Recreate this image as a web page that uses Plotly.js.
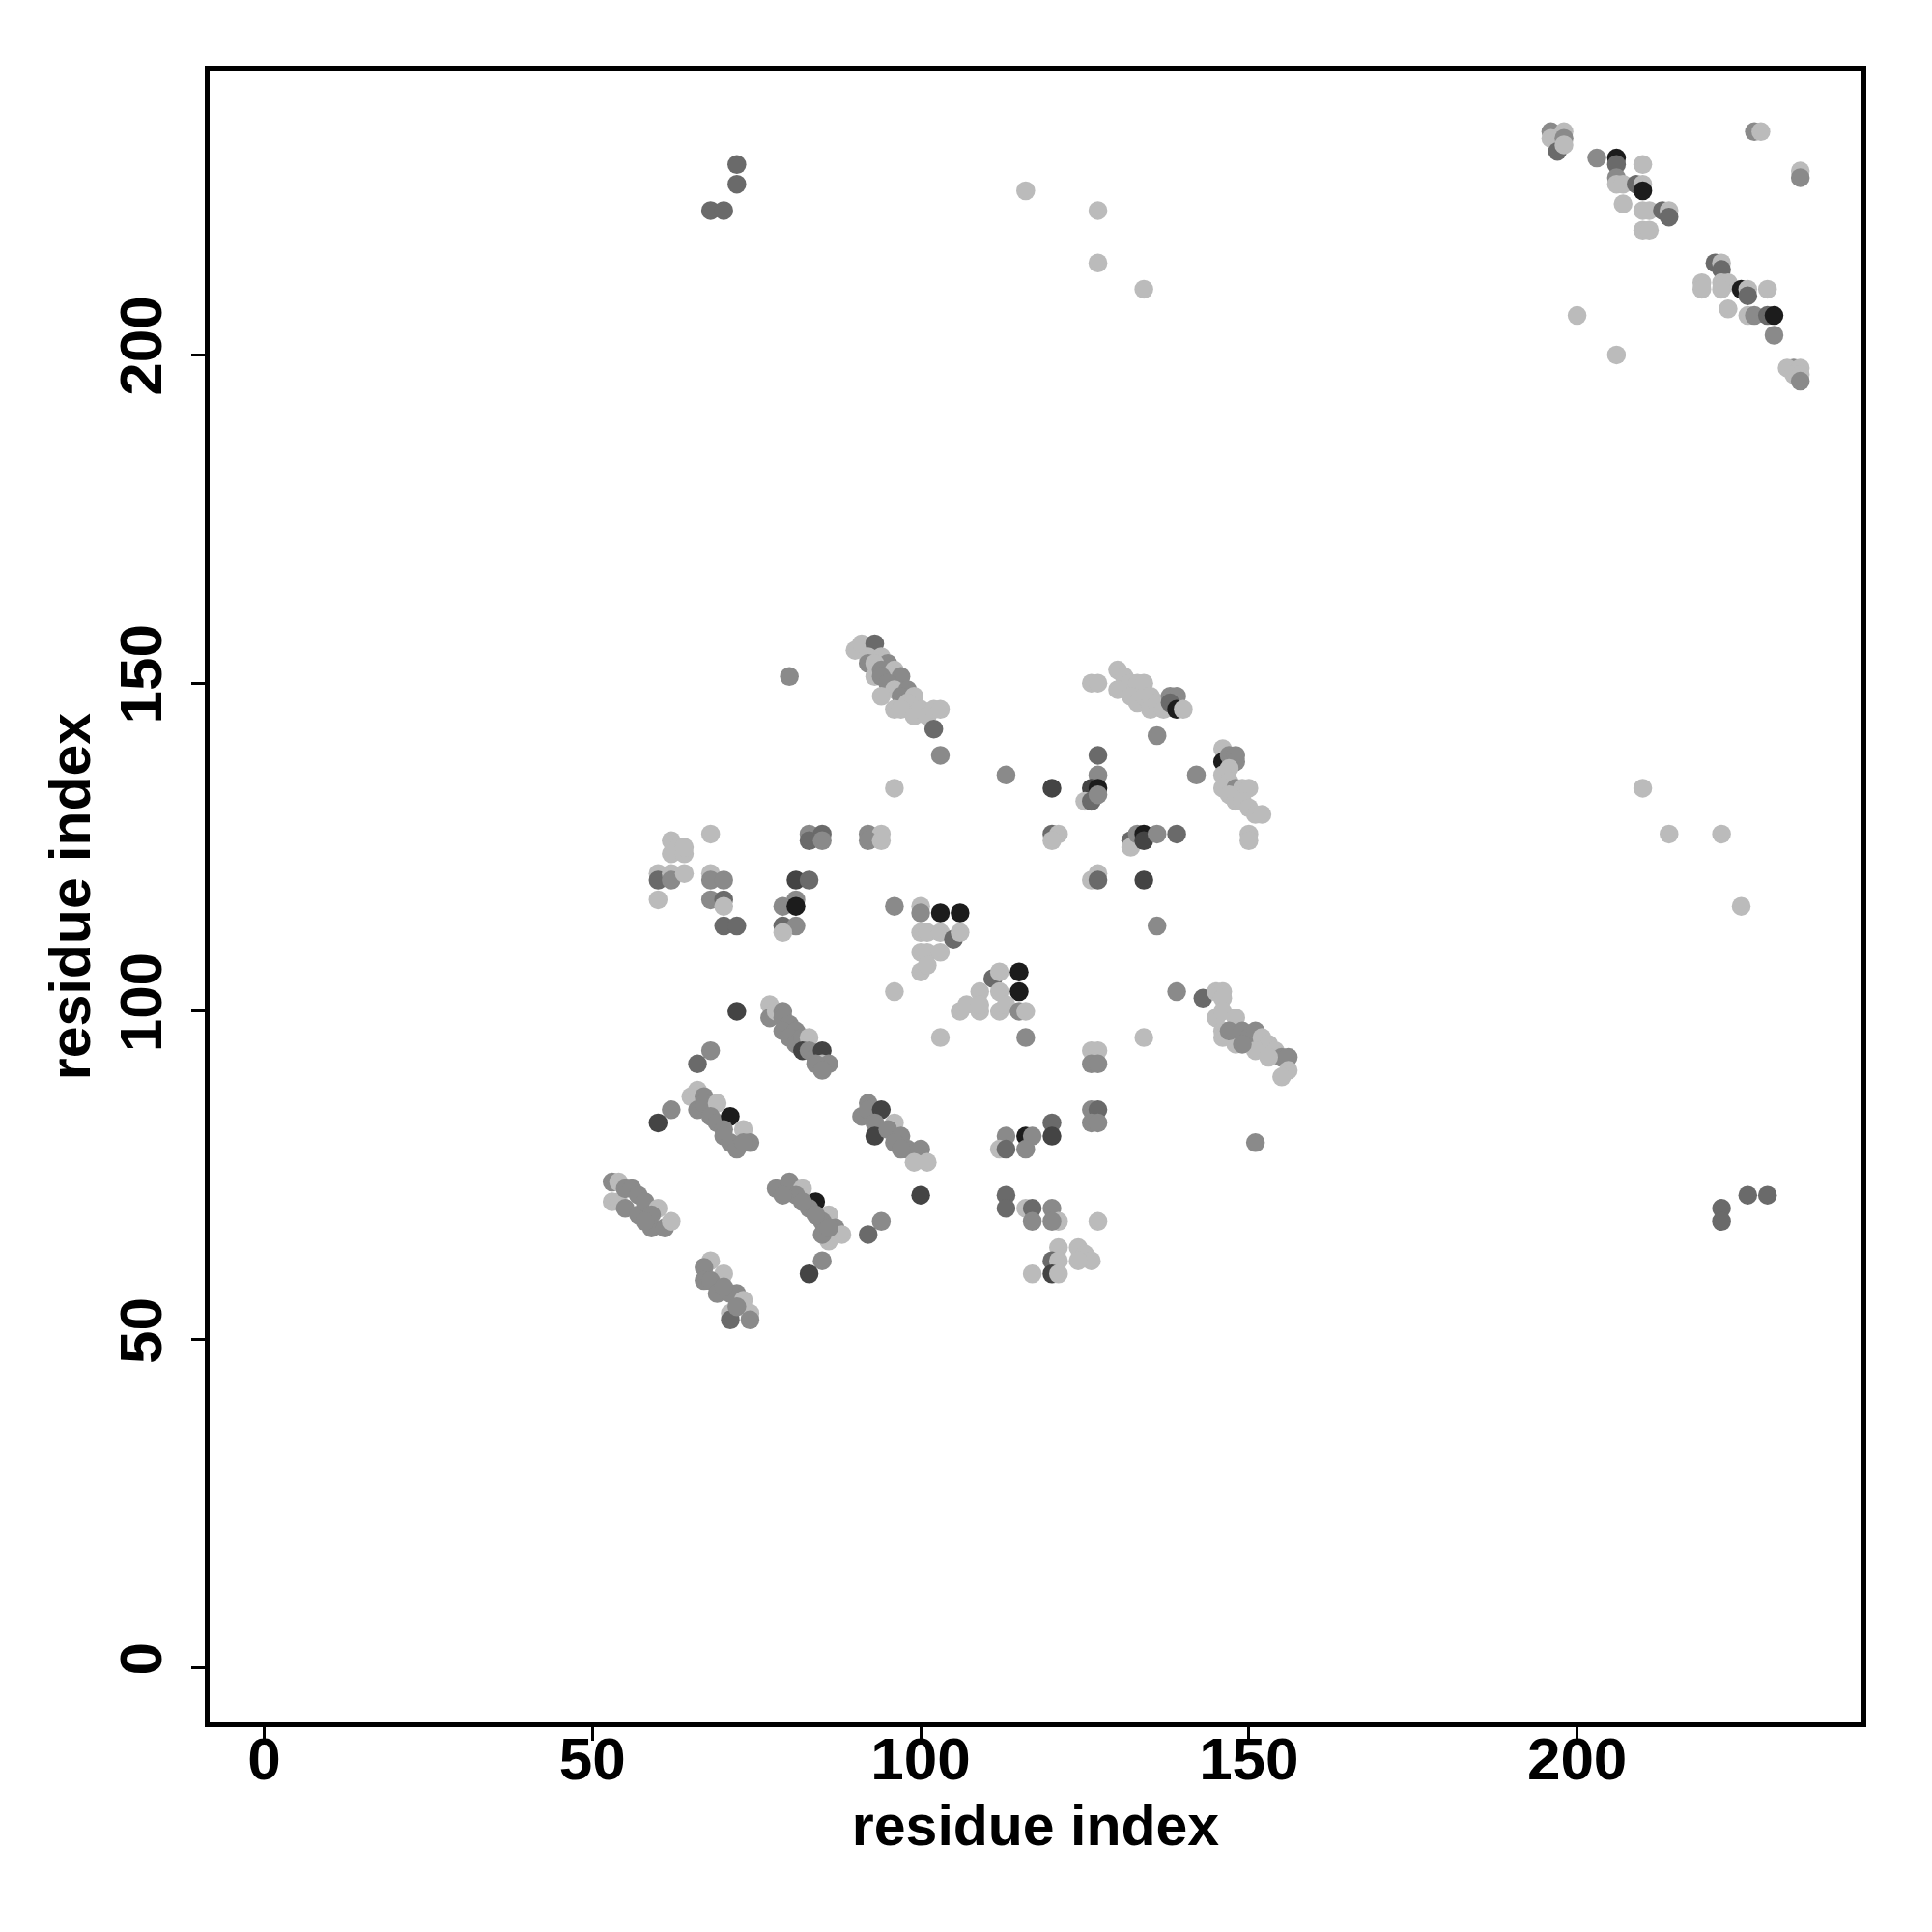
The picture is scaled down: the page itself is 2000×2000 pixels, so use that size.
<!DOCTYPE html>
<html>
<head>
<meta charset="utf-8">
<script src="https://cdn.plot.ly/plotly-3.0.1.min.js"></script>
<style>html,body{margin:0;padding:0;background:#fff;}</style>
</head>
<body>
<div id="chart" style="width:2000px;height:2000px;"></div>
<script>
// Contact map: residue i, residue j, contact level (1 = light gray ... 5 = black)
const topRightI = [196,198,196,197,197,198,198,203,206,206,210,206,206,207,209,210,210,207,210,211,213,214,214,210,211,221,222,222,219,219,222,223,222,225,226,226,229,223,226,227,229,230,230,233,232,234,233,234,234,227,228,234,234,200,206];
const topRightJ = [234,234,233,233,231,233,232,230,230,229,229,227,226,226,226,226,225,223,222,222,222,222,221,219,219,214,214,213,211,210,211,211,210,210,210,209,210,207,206,206,206,206,203,198,198,198,197,197,196,234,234,228,227,206,200];
const topRightL = [2,1,1,1,3,2,1,2,5,3,1,2,1,1,3,1,5,1,1,1,3,1,3,1,1,3,1,3,1,1,1,1,1,5,1,3,1,1,1,2,3,5,2,2,1,1,1,1,2,2,1,1,2,1,1];

const sparseI = [72,72,68,70,116,127,127,134,210,214,222,225,222,222,226,229];
const sparseJ = [229,226,222,222,225,222,214,210,134,127,127,116,70,68,72,72];
const sparseL = [3,3,3,3,1,1,1,1,1,1,1,1,3,3,3,3];

const sheetAI = [90,91,93,92,94,92,95,93,93,94,96,94,97,95,96,98,94,97,99,98,96,97,99,100,101,102,103,102,103,80,96];
const sheetAJ = [155,156,156,154,154,153,153,153,151,152,152,151,151,150,149,149,148,148,148,147,146,146,145,146,145,146,146,143,139,151,134];
const sheetAL = [1,1,3,1,1,2,2,1,1,2,1,2,2,2,1,2,1,2,1,1,1,1,1,1,1,1,1,3,2,2,1];

const sheetBI = [126,127,130,131,132,133,134,130,132,133,134,135,135,136,137,138,139,138,139,140,136,
                 113,120,127,127,126,127,125,126,127,142,
                 146,146,147,148,148,147,146,147,146,148,149,150,147,148,149,150,151,152,150,150];
const sheetBJ = [150,150,152,151,150,150,150,149,148,147,148,148,146,147,146,148,148,147,146,146,142,
                 136,134,139,136,134,134,132,132,133,136,
                 140,138,139,139,138,137,136,135,134,134,134,134,133,132,132,131,130,130,127,126];
const sheetBL = [1,1,1,1,1,1,1,1,1,1,1,1,1,1,1,2,2,3,5,1,2,
                 2,4,3,2,4,5,1,3,2,2,
                 1,5,2,2,2,1,1,1,1,2,1,1,1,1,1,1,1,1,1,1];

const midUpperI = [68,83,85,83,85,92,94,92,94,120,121,120,132,132,133,134,134,136,139,
                   62,63,62,64,64,60,60,62,62,64,60,
                   68,68,70,68,70,70,70,72,
                   81,83,79,81,81,79,81,79,
                   96,100,100,103,106,100,101,103,105,106,100,101,103,100,101,96,103,
                   126,127,127,134,136];
const midUpperJ = [127,127,127,126,126,127,127,126,126,127,127,126,126,125,127,127,126,127,127,
                   126,125,124,124,125,121,120,121,120,121,117,
                   121,120,120,117,117,116,113,113,
                   120,120,116,117,116,113,113,112,
                   116,116,115,115,115,112,112,112,111,112,109,109,109,106,107,103,96,
                   120,121,120,120,113];
const midUpperL = [1,2,3,3,2,2,1,2,1,3,1,1,3,1,2,5,4,2,3,
                   1,1,1,1,1,1,3,1,2,1,1,
                   1,2,2,2,3,1,3,3,
                   4,3,2,2,5,3,2,1,
                   2,1,2,5,5,1,1,1,3,1,1,1,1,1,1,1,1,
                   1,1,3,4,2];

const midI = [111,112,115,115,109,112,106,107,109,109,112,113,115,116,116,139,143,145,146,146,
              145,146,148,146,146,148,147,149,150,151,152,153,154,155,156,156,155,151,153,149,
              134,126,127,126,127,
              72,77,77,78,79,79,80,79,81,80,81,82,83,82,83,84,85,85,86,84,85,68,66];
const midJ = [105,106,106,103,103,103,100,101,100,101,100,101,100,100,96,103,102,103,103,102,
              99,100,99,97,96,95,97,97,96,97,96,95,94,93,93,91,90,94,93,95,
              96,94,94,92,92,
              100,101,99,100,100,99,98,97,97,96,95,96,96,94,94,93,94,92,92,92,91,94,92];
const midL = [3,1,5,5,1,1,1,1,1,1,1,1,2,1,2,2,3,1,1,1,
              1,1,1,1,1,1,2,2,2,2,1,1,1,2,2,1,1,1,1,2,
              1,1,1,2,2,
              4,1,2,1,2,2,2,2,2,2,2,2,1,4,2,2,4,1,2,2,2,2,3];

const lowI = [60,62,65,66,67,66,67,69,68,69,71,70,73,70,71,74,72,73,
              92,91,92,94,93,96,93,95,97,96,98,100,99,101,97,
              100,94,92,
              53,54,53,54,55,56,57,55,57,58,60,59,61,62,59,58,
              78,80,82,81,79,84,83,82,86,85,84,87,88,86,85,86,
              85,83,
              68,67,67,70,68,69,72,71,73,71,71,74,74,70,72,
              126,127,126,127,113,112,113,116,117,116,120,120,151,113,113,116,117,117,120,121,120,127,121,120,121,120,121,117,124,125,126,124];
const lowJ = [83,85,87,88,87,85,86,86,84,83,84,82,82,81,80,80,79,80,
              86,84,85,85,83,83,81,82,81,80,79,79,77,77,79,
              72,68,66,
              74,74,71,71,73,73,72,70,69,71,70,67,67,68,69,68,
              73,74,73,72,72,71,70,71,69,68,69,67,66,65,66,67,
              62,60,
              62,61,59,60,59,57,57,57,56,54,53,54,53,58,55,
              85,85,83,83,81,79,79,81,81,79,83,81,80,72,70,70,70,68,70,68,68,68,64,62,62,60,60,60,64,63,62,62];
const lowL = [4,2,1,1,2,2,2,1,2,2,5,2,1,2,2,2,2,2,
              2,2,2,4,2,1,4,2,2,2,2,2,1,1,2,
              4,2,3,
              2,1,1,1,2,2,2,2,2,2,1,2,2,1,2,2,
              2,2,1,2,2,5,2,2,1,2,2,2,1,1,2,2,
              2,4,
              1,2,2,1,2,2,2,2,1,1,3,1,2,2,2,
              2,3,2,2,2,1,3,5,2,2,3,4,2,3,3,1,3,2,2,1,2,1,1,3,1,4,1,1,1,1,1,1];

const tickValues = [0, 50, 100, 150, 200];
const axisLabel = 'residue index';

const xs = [].concat(topRightI, sparseI, sheetAI, sheetBI, midUpperI, midI, lowI);
const ys = [].concat(topRightJ, sparseJ, sheetAJ, sheetBJ, midUpperJ, midJ, lowJ);
const levels = [].concat(topRightL, sparseL, sheetAL, sheetBL, midUpperL, midL, lowL);

const tickFam = 'Liberation Sans, Arial, sans-serif';
const titleFam = 'Liberation Sans, Arial, Helvetica, sans-serif';

const trace = {
  type: 'scatter',
  mode: 'markers',
  x: xs,
  y: ys,
  hoverinfo: 'skip',
  marker: {
    size: 19.5,
    color: levels,
    cmin: 1,
    cmax: 5,
    colorscale: [[0, '#bbbbbb'], [0.25, '#8a8a8a'], [0.5, '#6a6a6a'], [0.75, '#444444'], [1, '#1c1c1c']],
    showscale: false,
    line: {width: 0}
  }
};

function axis(extra) {
  return Object.assign({
    range: [-8.32, 243.32],
    tickmode: 'array',
    tickvals: tickValues,
    ticktext: tickValues.map(String),
    ticks: 'outside',
    ticklen: 14,
    tickwidth: 3,
    tickcolor: '#000',
    showline: true,
    linewidth: 5,
    linecolor: '#000',
    mirror: true,
    showgrid: false,
    zeroline: false,
    automargin: false,
    tickfont: {family: tickFam, size: 62, color: '#000', weight: 'bold'}
  }, extra);
}

const layout = {
  width: 2000,
  height: 2000,
  margin: {l: 217, r: 73, t: 73, b: 217},
  paper_bgcolor: '#fff',
  plot_bgcolor: '#fff',
  showlegend: false,
  xaxis: axis({
    ticklabelstandoff: -34,
    title: {text: axisLabel, font: {family: titleFam, size: 59, color: '#000', weight: 'bold'}, standoff: 16}
  }),
  yaxis: axis({
    tickangle: -90,
    ticklabelstandoff: 6,
    title: {text: axisLabel, font: {family: titleFam, size: 59, color: '#000', weight: 'bold'}, standoff: 0}
  })
};

Plotly.newPlot('chart', [trace], layout, {staticPlot: true, displayModeBar: false});
</script>
</body>
</html>
